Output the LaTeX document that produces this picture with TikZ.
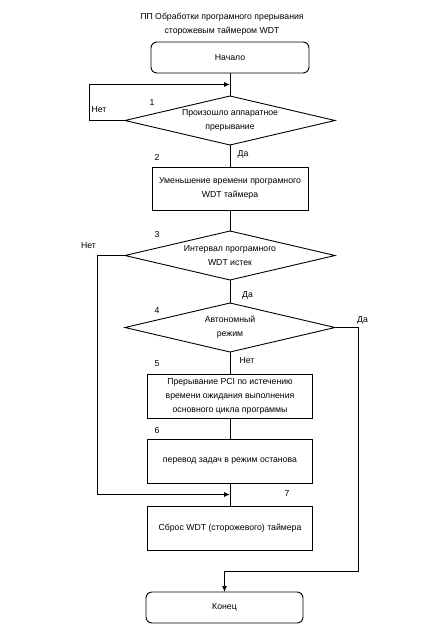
\documentclass[tikz,border=0pt]{standalone}
\usepackage{fontspec}
\setmainfont{Liberation Sans}
\usetikzlibrary{arrows.meta,positioning,shapes.geometric,calc}

\begin{document}
\begin{tikzpicture}[
    x=1pt, y={(0pt,-1pt)},
    font=\fontsize{8.7}{14}\selectfont,
    line width=0.9pt,
    outer sep=0pt,
    box/.style={draw, align=center, minimum width=165pt, minimum height=44pt,
                inner sep=2pt},
    term/.style={box, rounded corners=6pt, minimum width=158pt, minimum height=31pt},
    cond/.style={draw, diamond, aspect=4.3, inner sep=0pt, align=center,
                 minimum width=210pt, minimum height=49pt},
    num/.style={inner sep=0pt},
    >={Latex[length=6pt,width=5pt]},
    ]
\useasboundingbox (0,0) rectangle (443,624);

% ---- title ----
\node[align=center] (title) at (222,24) {ПП Обработки програмного прерывания\\сторожевым таймером WDT};

% ---- main chain ----
\node[term] (start) at (230,57.5) {Начало};
\node[cond, below=23pt of start] (irq) {Произошло аппаратное\\прерывание};
\node[box, below=22pt of irq, minimum width=156pt, minimum height=43pt] (dec) {Уменьшение времени програмного\\WDT таймера};
\node[cond, below=21pt of dec] (expired) {Интервал програмного\\WDT истек};
\node[cond, below=23pt of expired] (auto) {Автономный\\режим};
\node[box, below=22pt of auto] (pci) {Прерывание PCI по истечению\\времени ожидания выполнения\\основного цикла программы};
\node[box, below=21pt of pci] (halt) {перевод задач в режим останова};
\node[box, below=23pt of halt] (reset) {Сброс WDT (сторожевого) таймера};
\node[term, below=42pt of reset, xshift=-5.5pt, minimum width=157pt] (stop) {Конец};

% ---- step numbers and branch labels ----
\node[num] (n1) at (152,103) {1};
\node[num] (n2) at (157,157) {2};
\node[num] (n3) at (157,235) {3};
\node[num] (n4) at (157,311) {4};
\node[num] (n5) at (157,364) {5};
\node[num] (n6) at (157,430) {6};
\node[num] (n7) at (287,494) {7};
\node[num] (irqno) at (99,110) {Нет};
\node[num] (irqyes) at (243,154) {Да};
\node[num] (expno) at (88.5,246) {Нет};
\node[num] (expyes) at (247.5,295) {Да};
\node[num] (autoyes) at (362.5,320) {Да};
\node[num] (autono) at (247,361) {Нет};

% ---- junctions ----
\coordinate (j1) at ($(start.south)!0.5!(irq.north)$);
\coordinate (j2) at ($(halt.south)!0.5!(reset.north)$);
\coordinate (j3) at (stop.north |- {$(reset.south)!0.5!(stop.north)$});

% ---- edges ----
\draw (start) -- (irq);
\draw[->] (irq.west) -- ++(-36,0) |- (j1);
\draw (irq) -- (dec);
\draw (dec) -- (expired);
\draw[->] (expired.west) -- ++(-28,0) |- (j2);
\draw (expired) -- (auto);
\draw (auto) -- (pci);
\draw (pci) -- (halt);
\draw (halt) -- (reset);
\draw[->] (auto.east) -- ++(23,0) |- (j3) -- (stop.north);
\end{tikzpicture}
\end{document}
